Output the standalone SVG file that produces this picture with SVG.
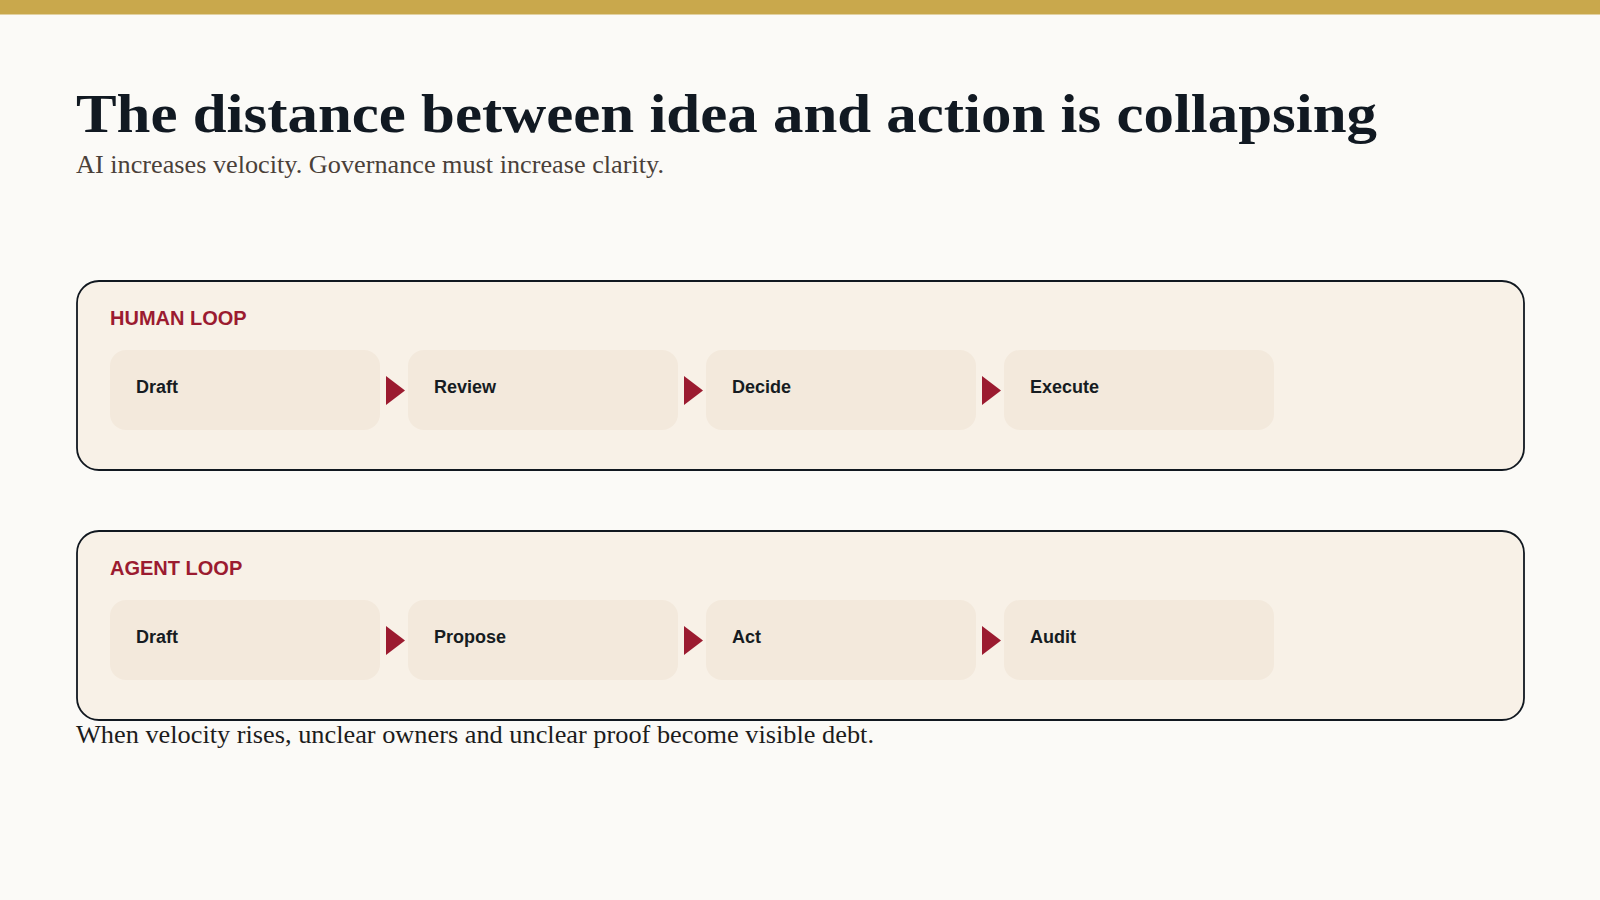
<svg xmlns="http://www.w3.org/2000/svg" width="1600" height="900" viewBox="0 0 1600 900">
  <style>
    .title { font-family: "Liberation Serif", "Times New Roman", serif; font-weight: bold; font-size: 54px; fill: #111922; }
    .sub { font-family: "Liberation Serif", "Times New Roman", serif; font-size: 25px; fill: #4a4039; }
    .foot { font-family: "Liberation Serif", "Times New Roman", serif; font-size: 25px; fill: #1c1c1c; }
    .loop { fill: #f8f1e7; stroke: #111820; stroke-width: 1.8; }
    .loop-label { font-family: "Liberation Sans", Arial, sans-serif; font-weight: bold; font-size: 20px; fill: #9b1b30; }
    .step { fill: #f3e9dc; }
    .step-label { font-family: "Liberation Sans", Arial, sans-serif; font-weight: bold; font-size: 18px; fill: #161c22; }
    .arrow { fill: #9b1b30; }
  </style>
  <rect x="0" y="0" width="1600" height="900" fill="#fbfaf7"/>
  <rect x="0" y="0" width="1600" height="14.5" fill="#c9a84c"/>

  <text class="title" x="76" y="132" textLength="1301" lengthAdjust="spacingAndGlyphs">The distance between idea and action is collapsing</text>
  <text class="sub" x="76" y="173" textLength="588" lengthAdjust="spacingAndGlyphs">AI increases velocity. Governance must increase clarity.</text>

  <g id="human-loop">
    <rect class="loop" x="77" y="281" width="1447" height="189" rx="22" ry="22"/>
    <text class="loop-label" x="110" y="325">HUMAN LOOP</text>
  </g>
  <g id="human-draft">
    <rect class="step" x="110" y="350" width="270" height="80" rx="16" ry="16"/>
    <text class="step-label" x="136" y="393">Draft</text>
  </g>
  <g id="human-review">
    <rect class="step" x="408" y="350" width="270" height="80" rx="16" ry="16"/>
    <text class="step-label" x="434" y="393">Review</text>
  </g>
  <g id="human-decide">
    <rect class="step" x="706" y="350" width="270" height="80" rx="16" ry="16"/>
    <text class="step-label" x="732" y="393">Decide</text>
  </g>
  <g id="human-execute">
    <rect class="step" x="1004" y="350" width="270" height="80" rx="16" ry="16"/>
    <text class="step-label" x="1030" y="393">Execute</text>
  </g>

  <g id="agent-loop">
    <rect class="loop" x="77" y="531" width="1447" height="189" rx="22" ry="22"/>
    <text class="loop-label" x="110" y="575">AGENT LOOP</text>
  </g>
  <g id="agent-draft">
    <rect class="step" x="110" y="600" width="270" height="80" rx="16" ry="16"/>
    <text class="step-label" x="136" y="643">Draft</text>
  </g>
  <g id="agent-propose">
    <rect class="step" x="408" y="600" width="270" height="80" rx="16" ry="16"/>
    <text class="step-label" x="434" y="643">Propose</text>
  </g>
  <g id="agent-act">
    <rect class="step" x="706" y="600" width="270" height="80" rx="16" ry="16"/>
    <text class="step-label" x="732" y="643">Act</text>
  </g>
  <g id="agent-audit">
    <rect class="step" x="1004" y="600" width="270" height="80" rx="16" ry="16"/>
    <text class="step-label" x="1030" y="643">Audit</text>
  </g>

  <g id="connectors">
    <polygon class="arrow" points="386,376 405,390.5 386,405"/>
    <polygon class="arrow" points="684,376 703,390.5 684,405"/>
    <polygon class="arrow" points="982,376 1001,390.5 982,405"/>
    <polygon class="arrow" points="386,626 405,640.5 386,655"/>
    <polygon class="arrow" points="684,626 703,640.5 684,655"/>
    <polygon class="arrow" points="982,626 1001,640.5 982,655"/>
  </g>

  <text class="foot" x="76" y="743" textLength="798" lengthAdjust="spacingAndGlyphs">When velocity rises, unclear owners and unclear proof become visible debt.</text>
</svg>
